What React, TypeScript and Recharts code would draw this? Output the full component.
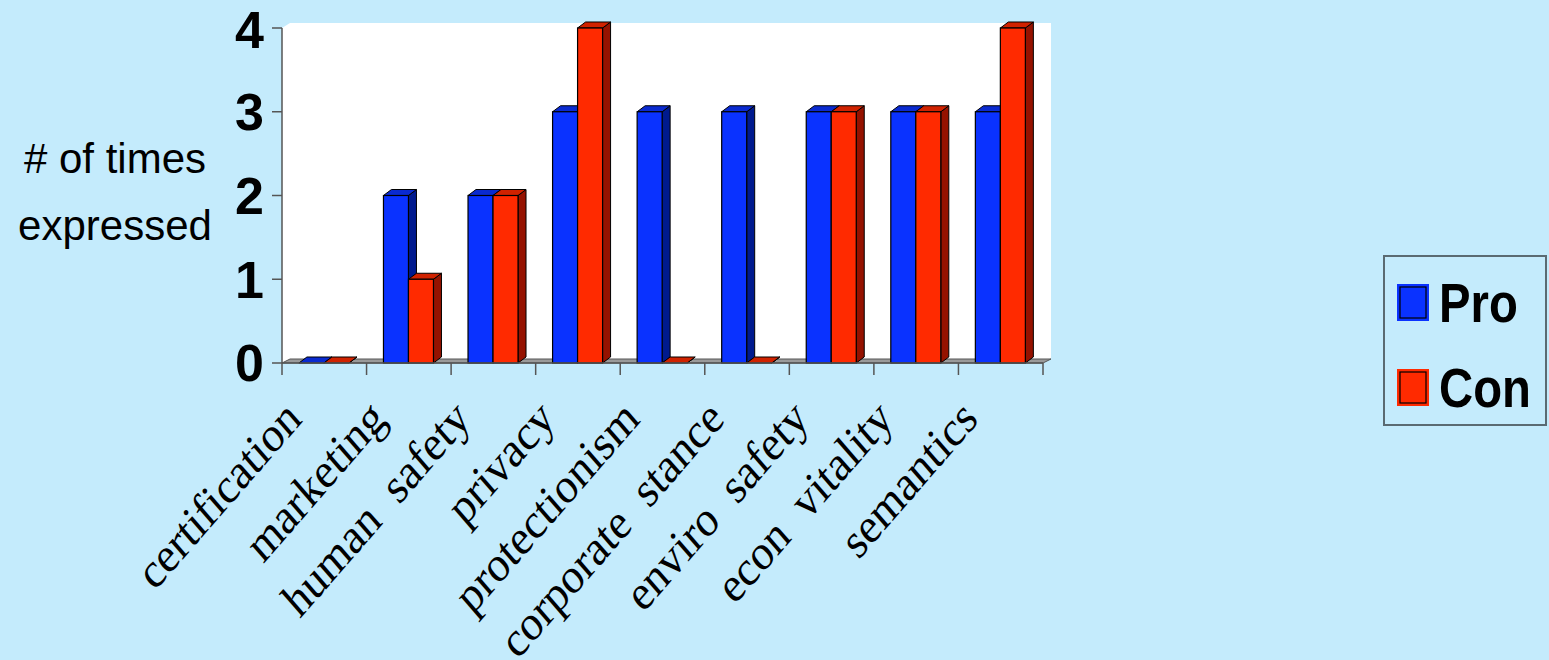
import React from 'react';
import { BarChart, Bar, XAxis, YAxis, ReferenceArea, Legend, Label } from 'recharts';

const categories = ['certification', 'marketing', 'human  safety', 'privacy', 'protectionism', 'corporate  stance', 'enviro  safety', 'econ  vitality', 'semantics'];
const proValues = [0, 2, 2, 3, 3, 3, 3, 3, 3];
const conValues = [0, 1, 2, 4, 0, 0, 3, 3, 4];
const yTicks = [0, 1, 2, 3, 4];
const seriesNames = ['Pro', 'Con'];

const data = categories.map((c, i) => ({ name: c, pro: proValues[i], con: conValues[i] }));

const W = 1549;
const H = 660;
const PLOT_L = 282;
const PLOT_R = 1043;
const PLOT_T = 28;
const PLOT_B = 363;
const Y_AXIS_W = 60;
const X_AXIS_H = 290;
const BAND = (PLOT_R - PLOT_L) / categories.length;
const DX = 8;
const DY = 6;

const COLORS: Record<string, { front: string; top: string; side: string }> = {
  pro: { front: '#0A32FF', top: '#0A2AD0', side: '#001A8E' },
  con: { front: '#FF2A00', top: '#D02200', side: '#951200' },
};

const Bar3D = (props: any) => {
  const { x, y, width, height, dataKey } = props;
  const c = COLORS[dataKey] || COLORS.pro;
  const r = x + width;
  const b = y + height;
  return (
    <g>
      <polygon
        points={`${r},${y} ${r + DX},${y - DY} ${r + DX},${b - DY} ${r},${b}`}
        fill={c.side}
        stroke="#000"
        strokeWidth={1}
        strokeLinejoin="round"
      />
      <polygon
        points={`${x},${y} ${x + DX},${y - DY} ${r + DX},${y - DY} ${r},${y}`}
        fill={c.top}
        stroke="#000"
        strokeWidth={1}
        strokeLinejoin="round"
      />
      {height > 0 && (
        <rect x={x} y={y} width={width} height={height} fill={c.front} stroke="#000" strokeWidth={1.2} />
      )}
    </g>
  );
};

const Wall = (props: any) => {
  const { x, y, width, height } = props;
  const r = x + width;
  const b = y + height;
  return (
    <g>
      <polygon
        points={`${x},${y} ${x + DX},${y - DY + 1} ${r + DX},${y - DY + 1} ${r + DX},${b - DY + 1} ${r},${b} ${x},${b}`}
        fill="#FFFFFF"
        stroke="none"
      />
      <polygon
        points={`${x},${b} ${x + DX},${b - DY + 2} ${r + DX},${b - DY + 2} ${r},${b}`}
        fill="#9A9A9A"
        stroke="#555"
        strokeWidth={1}
      />
    </g>
  );
};

const XTick = (props: any) => {
  const { x, y, payload, index } = props;
  const half = BAND / 2;
  return (
    <g>
      <line x1={x - half} y1={y} x2={x - half} y2={y + 12} stroke="#555" strokeWidth={1.5} />
      {index === categories.length - 1 && (
        <line x1={x + half} y1={y} x2={x + half} y2={y + 12} stroke="#555" strokeWidth={1.5} />
      )}
      <text
        transform={`translate(${x - 21},${y + 58}) scale(0.87,1) rotate(-45)`}
        textAnchor="end"
        fontFamily="'Liberation Serif', 'Times New Roman', serif"
        fontSize={50}
        fill="#000"
        style={{ whiteSpace: 'pre' }}
      >
        {payload.value}
      </text>
    </g>
  );
};

const YLabel = () => (
  <text
    textAnchor="middle"
    fontFamily="'Liberation Sans', Arial, sans-serif"
    fontSize={42}
    fill="#000"
  >
    <tspan x={115} y={173}># of times</tspan>
    <tspan x={115} y={240}>expressed</tspan>
  </text>
);

const LegendBox = () => (
  <svg width={165} height={172} style={{ display: 'block' }}>
    <rect x={1} y={1} width={162} height={169} fill="none" stroke="#5A6A72" strokeWidth={2} />
    {seriesNames.map((n, i) => {
      const key = i === 0 ? 'pro' : 'con';
      const top = i === 0 ? 30 : 115;
      return (
        <g key={n}>
          <rect x={15} y={top} width={30} height={35} fill={COLORS[key].front} stroke={COLORS[key].front} strokeWidth={2} />
          <rect x={17} y={top + 2} width={26} height={31} fill="none" stroke="#000" strokeWidth={1.2} />
          <text
            transform={`translate(56,${top + 37}) scale(0.86,1)`}
            fontFamily="'Liberation Sans', Arial, sans-serif"
            fontWeight="bold"
            fontSize={55}
            fill="#000"
          >
            {n}
          </text>
        </g>
      );
    })}
  </svg>
);

export default function App() {
  return (
    <div style={{ width: W, height: H, background: '#C4EBFC', overflow: 'hidden' }}>
      <style>{`body{margin:0;background:#C4EBFC;}`}</style>
      <BarChart
        width={W}
        height={H}
        data={data}
        margin={{ top: PLOT_T, right: W - PLOT_R, bottom: H - PLOT_B - X_AXIS_H, left: PLOT_L - Y_AXIS_W }}
        barCategoryGap="20%"
        barGap={0}
      >
        <ReferenceArea y1={0} y2={4} shape={<Wall />} ifOverflow="visible" />
        <XAxis
          dataKey="name"
          interval={0}
          height={X_AXIS_H}
          tickLine={false}
          tickSize={0}
          tickMargin={0}
          axisLine={{ stroke: '#555', strokeWidth: 1.5 }}
          tick={<XTick />}
        />
        <YAxis
          domain={[0, 4]}
          ticks={yTicks}
          width={Y_AXIS_W}
          tickSize={10}
          tickMargin={8}
          axisLine={{ stroke: '#555', strokeWidth: 1.5 }}
          tickLine={{ stroke: '#555', strokeWidth: 1.5 }}
          tick={{ fontFamily: "'Liberation Sans', Arial, sans-serif", fontWeight: 'bold', fontSize: 52, fill: '#000' }}
        >
          <Label content={<YLabel />} />
        </YAxis>
        <Bar dataKey="pro" name="Pro" fill={COLORS.pro.front} shape={(p: any) => <Bar3D {...p} dataKey="pro" />} isAnimationActive={false} />
        <Bar dataKey="con" name="Con" fill={COLORS.con.front} shape={(p: any) => <Bar3D {...p} dataKey="con" />} isAnimationActive={false} />
        <Legend
          layout="vertical"
          align="center"
          verticalAlign="middle"
          content={<LegendBox />}
          wrapperStyle={{ position: 'absolute', left: 1383, top: 255, width: 165, height: 172 }}
        />
      </BarChart>
    </div>
  );
}
